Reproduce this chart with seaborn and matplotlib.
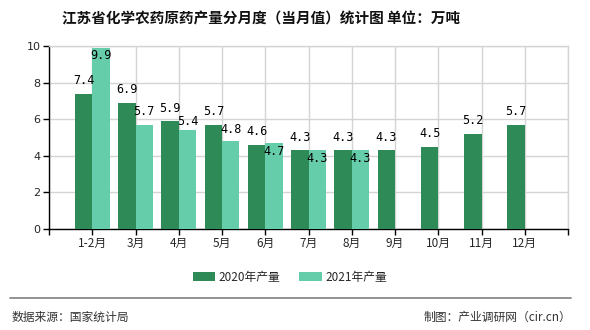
import numpy as np
import pandas as pd
import matplotlib
matplotlib.use("Agg")
import matplotlib.pyplot as plt
from matplotlib.lines import Line2D
from matplotlib.patches import Patch
import seaborn as sns

months = ["1-2月", "3月", "4月", "5月", "6月", "7月", "8月", "9月", "10月", "11月", "12月"]
output_2020 = [7.4, 6.9, 5.9, 5.7, 4.6, 4.3, 4.3, 4.3, 4.5, 5.2, 5.7]
output_2021 = [9.9, 5.7, 5.4, 4.8, 4.7, 4.3, 4.3, np.nan, np.nan, np.nan, np.nan]
series_names = ["2020年产量", "2021年产量"]

title = "江苏省化学农药原药产量分月度（当月值）统计图 单位：万吨"
source_text = "数据来源：国家统计局"
credit_text = "制图：产业调研网（cir.cn）"

colors = ["#2e8b57", "#66cdaa"]
# vertical placement of the 2021 value labels, in pixels (positive = downward from bar top)
label_shift_2021 = [8, -13, -9, -12, 9, 8, 8, 0, 0, 0, 0]

sns.set_theme(style="white")
plt.rcParams["font.family"] = ["Noto Sans CJK SC", "DejaVu Sans"]

df = pd.DataFrame({
    "month": months * 2,
    "value": output_2020 + output_2021,
    "series": [series_names[0]] * len(months) + [series_names[1]] * len(months),
})

fig = plt.figure(figsize=(5.9, 3.3), dpi=100)
ax = fig.add_axes([49 / 590, 1 - 229 / 330, 519 / 590, 183 / 330])

sns.barplot(data=df, x="month", y="value", hue="series", order=months,
            hue_order=series_names, palette=colors, width=0.8, saturation=1,
            errorbar=None, legend=False, ax=ax, zorder=3, linewidth=0,
            edgecolor="none")

ax.set_xlim(-1, len(months))
ax.set_ylim(0, 10)
ax.set_yticks(np.arange(0, 11, 2))
ax.set_yticklabels([str(v) for v in range(0, 11, 2)], fontsize=8,
                   family=["DejaVu Sans"])
ax.set_xticks(np.arange(-1, len(months) + 1))
ax.set_xticklabels([""] + months + [""], fontsize=8.5)
ax.set_xlabel("")
ax.set_ylabel("")

ax.grid(True, color="#d4d4d4", linewidth=1, zorder=0)
ax.set_axisbelow(True)
for side in ["top", "right"]:
    ax.spines[side].set_color("#d4d4d4")
    ax.spines[side].set_linewidth(1)
for side in ["left", "bottom"]:
    ax.spines[side].set_color("black")
    ax.spines[side].set_linewidth(1)
ax.tick_params(axis="both", which="both", direction="out", length=4, width=1,
               color="black", pad=2, left=True, bottom=True)

px = 0.72  # points per pixel at 100 dpi
for idx, container in enumerate(ax.containers):
    values = output_2020 if idx == 0 else output_2021
    for i, bar in enumerate(container):
        v = values[i]
        if v is None or np.isnan(v):
            continue
        xc = bar.get_x() + bar.get_width() / 2
        dy = 13 * px if idx == 0 else -label_shift_2021[i] * px
        ax.annotate(f"{v:.1f}", (xc, v), xytext=(0, dy), textcoords="offset points",
                    ha="center", va="center", fontsize=8.5,
                    family=["DejaVu Sans Mono"], color="black", zorder=5)

handles = [Patch(facecolor=c, edgecolor="none") for c in colors]
fig.legend(handles, series_names, loc="center", bbox_to_anchor=(290 / 590, 1 - 277 / 330),
           ncol=2, frameon=False, fontsize=8.5, handlelength=1.9, handleheight=0.75,
           columnspacing=1.6, handletextpad=0.3)

fig.text(261 / 590, 1 - 18 / 330, title, ha="center", va="center",
         fontsize=10.5, fontweight="bold", color="#111111")

fig.add_artist(Line2D([10 / 590, 571 / 590], [1 - 298 / 330, 1 - 298 / 330],
                      transform=fig.transFigure, color="#8a8a8a", linewidth=1.3))
fig.text(12 / 590, 1 - 317 / 330, source_text, ha="left", va="center",
         fontsize=8.5, color="#333333")
fig.text(571 / 590, 1 - 317 / 330, credit_text, ha="right", va="center",
         fontsize=8.5, color="#333333")

fig.savefig("out.png", dpi=100)
